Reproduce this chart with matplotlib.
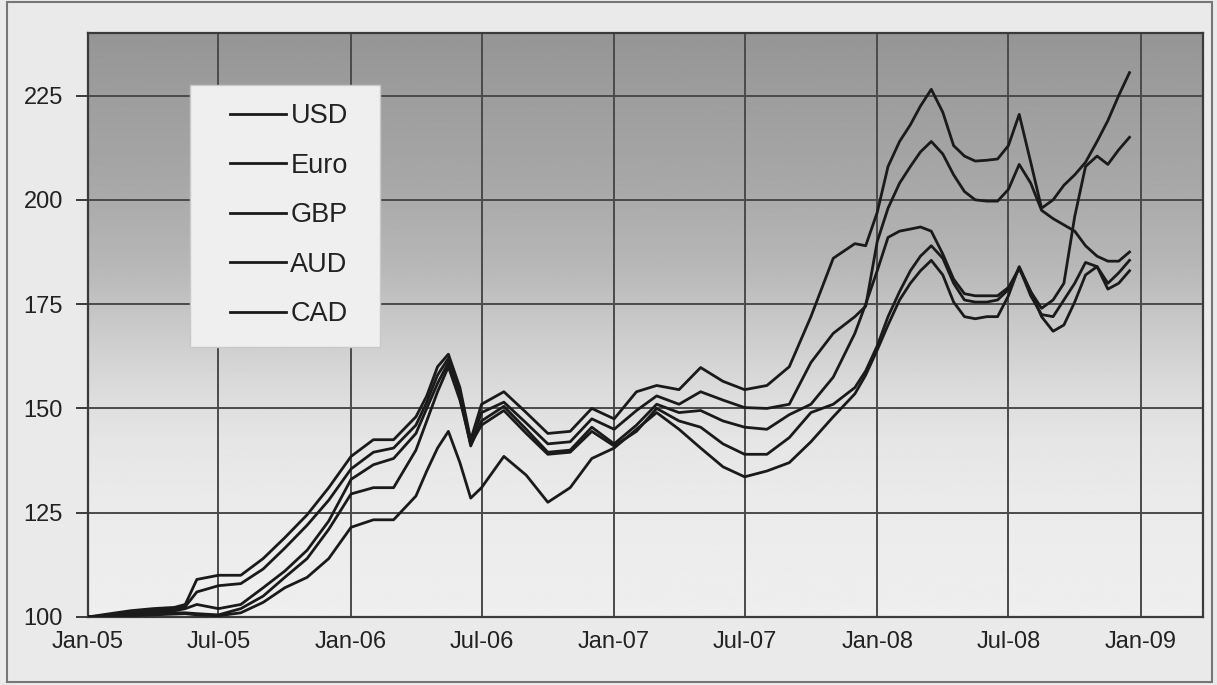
import matplotlib
matplotlib.use("Agg")
import matplotlib.pyplot as plt
import matplotlib.dates as mdates
from matplotlib.patches import Rectangle
import numpy as np
import pandas as pd

# Observation dates (monthly, with mid-month points where the series move fast)
dates = [
    "2005-01-01", "2005-02-01", "2005-03-01", "2005-04-01", "2005-05-01", "2005-05-16",
    "2005-06-01", "2005-07-01", "2005-08-01", "2005-09-01", "2005-10-01", "2005-11-01",
    "2005-12-01",
    "2006-01-01", "2006-02-01", "2006-03-01", "2006-04-01", "2006-04-16", "2006-05-01",
    "2006-05-16", "2006-06-01", "2006-06-16", "2006-07-01", "2006-08-01", "2006-09-01",
    "2006-10-01", "2006-11-01", "2006-12-01",
    "2007-01-01", "2007-02-01", "2007-03-01", "2007-04-01", "2007-05-01", "2007-06-01",
    "2007-07-01", "2007-08-01", "2007-09-01", "2007-10-01", "2007-11-01", "2007-12-01",
    "2007-12-16",
    "2008-01-01", "2008-01-16", "2008-02-01", "2008-02-16", "2008-03-01", "2008-03-16",
    "2008-04-01", "2008-04-16", "2008-05-01", "2008-05-16", "2008-06-01", "2008-06-16",
    "2008-07-01", "2008-07-16", "2008-08-01", "2008-08-16", "2008-09-01", "2008-09-16",
    "2008-10-01", "2008-10-16", "2008-11-01", "2008-11-16", "2008-12-01", "2008-12-16",
]

usd = [
    100, 100.8, 101.5, 102, 102.3, 103, 109, 110, 110, 114, 119, 124.5, 131,
    138.5, 142.5, 142.5, 148, 153, 160, 163, 155, 142.5, 151, 154, 149, 144, 144.5, 150,
    147.5, 154, 155.5, 154.5, 159.8, 156.5, 154.5, 155.5, 160, 172, 186, 189.5, 189,
    197, 208, 214, 218, 222.5, 226.5, 221, 213, 210.5, 209.3, 209.5, 209.8, 213, 220.5,
    209, 198, 200, 203.5, 206, 209, 214, 219, 225, 230.5,
]
gbp = [
    100, 100.5, 101, 101.5, 101.8, 102.5, 106, 107.5, 108, 111.5, 116.5, 122, 128,
    135.5, 139.5, 140.5, 146, 151.5, 158, 162, 154, 141.5, 149, 151.5, 146.5, 141.5, 142, 147.5,
    145, 149.5, 153, 151, 154, 152, 150.2, 150, 151, 161, 168, 172, 174.5,
    190, 198, 204, 208, 211.5, 214, 211, 206, 202, 200, 199.7, 199.7, 202.5, 208.5,
    204, 197.5, 195.5, 194, 192.5, 189, 186.5, 185.3, 185.3, 187.5,
]
aud = [
    100, 100.3, 100.8, 101.2, 101.5, 102, 103, 102, 103, 107, 111, 116, 123,
    133, 136.5, 138, 144, 150, 156, 161, 153, 141, 147, 150.5, 145, 139.5, 140, 145.5,
    141.5, 146, 151, 149, 149.5, 147, 145.5, 145, 148.5, 151, 157.5, 168, 175,
    183, 191, 192.5, 193, 193.5, 192.5, 187, 181, 177.5, 177, 177, 177, 179, 183.5,
    178, 174, 176, 180, 196, 208, 210.5, 208.5, 212, 215,
]
cad = [
    100, 100.2, 100.5, 100.8, 101, 101, 100.8, 100.5, 102, 105, 109.5, 114, 121,
    129.5, 131, 131, 140, 147, 154, 160, 152, 141.5, 146, 149.5, 144, 139, 139.5, 144.5,
    141, 144.5, 150, 147, 145.5, 141.5, 139, 139, 143, 149, 151, 155, 159,
    165, 172, 178, 183, 186.5, 189, 186, 180, 176, 175.5, 175.5, 176, 178.5, 183.8,
    177, 172.5, 172, 176, 180, 185, 184, 180, 182.5, 185.5,
]
euro = [
    100, 100, 100.3, 100.5, 100.7, 100.8, 100.5, 100.3, 101, 103.5, 107, 109.5, 114,
    121.5, 123.3, 123.3, 129, 135, 140.5, 144.5, 137, 128.5, 131, 138.5, 134, 127.5, 131, 138,
    140.5, 145, 149, 145, 140.5, 136, 133.6, 135, 137, 142, 148, 153.5, 158,
    164, 170, 176, 180, 183, 185.5, 182, 175.5, 172, 171.5, 172, 172, 177, 184,
    178, 172, 168.5, 170, 175.5, 182, 184, 178.6, 180, 183,
]

legend_labels = ["USD", "Euro", "GBP", "AUD", "CAD"]
series = {"USD": usd, "Euro": euro, "GBP": gbp, "AUD": aud, "CAD": cad}
y_ticks = [100, 125, 150, 175, 200, 225]

x = pd.to_datetime(dates)

plt.rcParams["font.family"] = ["Liberation Sans", "DejaVu Sans"]

fig = plt.figure(figsize=(12.17, 6.85), dpi=100, facecolor="#eaeaea")
ax = fig.add_axes([0.0723, 0.0993, 0.9162, 0.8525])

# Grey gradient fill of the plot area, dark at the top and pale at the bottom
frac = np.linspace(0, 1, 256)
shade = np.interp(frac, [0.0, 0.2, 0.3, 0.4, 0.5, 0.6, 0.75, 0.9, 1.0],
                  [0.935, 0.92, 0.9, 0.855, 0.79, 0.72, 0.655, 0.615, 0.585])
ax.imshow(shade[:, None], cmap="gray", vmin=0, vmax=1, origin="lower",
          extent=[0, 1, 0, 1], transform=ax.transAxes, aspect="auto", zorder=0)

for name in legend_labels:
    ax.plot(x, series[name], color="#1a1a1a", lw=2.0, label=name, zorder=3,
            solid_joinstyle="round")

ax.set_ylim(100, 240)
ax.set_xlim(pd.Timestamp("2005-01-01"), pd.Timestamp("2009-03-28"))
ax.set_yticks(y_ticks)
ax.xaxis.set_major_locator(mdates.MonthLocator(bymonth=[1, 7]))
ax.xaxis.set_major_formatter(mdates.DateFormatter("%b-%y"))

ax.grid(True, color="#4a4a4a", lw=1.4, zorder=1)
ax.set_axisbelow(True)
for sp in ax.spines.values():
    sp.set_color("#3a3a3a")
    sp.set_linewidth(1.6)

ax.tick_params(axis="y", length=9, width=1.4, color="#3a3a3a", pad=9,
               labelsize=17, labelcolor="#222222")
ax.tick_params(axis="x", length=0, pad=10, labelsize=17, labelcolor="#222222")

# Legend panel: pale box with the entries laid over it
ax.add_patch(Rectangle((0.0915, 0.4623), 0.1704, 0.4487, transform=ax.transAxes,
                       facecolor="#efefef", edgecolor="#c8c8c8", lw=1.0, zorder=4))
leg = ax.legend(loc="upper left", bbox_to_anchor=(0.1274, 0.880), borderaxespad=0,
                fontsize=19.5, handlelength=2.05, handletextpad=0.18,
                labelspacing=0.87, borderpad=0.0, frameon=False)
leg.set_zorder(5)
for t in leg.get_texts():
    t.set_color("#222222")

# Thin frame round the whole figure
fig.patches.append(Rectangle((0.006, 0.004), 0.99, 0.993, transform=fig.transFigure,
                             fill=False, edgecolor="#777777", lw=1.5))

fig.savefig("out.png", dpi=100, facecolor=fig.get_facecolor())
